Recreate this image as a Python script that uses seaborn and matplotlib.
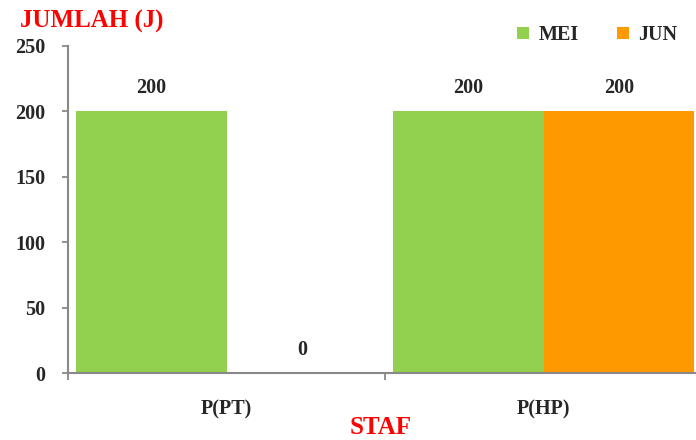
import pandas as pd
import numpy as np
import matplotlib.pyplot as plt
import seaborn as sns
from matplotlib.ticker import FixedLocator

# data
kategori = ["P(PT)", "P(HP)"]
bulan = ["MEI", "JUN"]
nilai_mei = [200, 200]
nilai_jun = [0, 200]
warna = ["#92D050", "#FF9900"]

df = pd.DataFrame({
    "staf": kategori * 2,
    "bulan": [bulan[0]] * 2 + [bulan[1]] * 2,
    "jumlah": nilai_mei + nilai_jun,
})

sns.set_style("white")
plt.rcParams['font.family'] = ['Liberation Serif', 'DejaVu Serif']
plt.rcParams['font.weight'] = 'bold'

fig = plt.figure(figsize=(6.96, 4.4), dpi=100)
ax = fig.add_axes([0.098, 0.152, 0.902, 0.744])

sns.barplot(data=df, x="staf", y="jumlah", hue="bulan", palette=warna,
            width=0.95, saturation=1, linewidth=0, ax=ax, legend=True)

# label nilai di atas batang
for c in ax.containers:
    ax.bar_label(c, padding=9.5, fontsize=14.5, fontweight='bold')

ax.set_ylim(0, 250)
ax.set_xlim(-0.5, 1.48)
ax.set_yticks(np.arange(0, 251, 50))
ax.tick_params(axis='y', left=True, labelsize=14.5, length=4.5, color='#898989',
               width=1.3, pad=12, direction='out')

# tick di batas kategori, label di tengah
ax.xaxis.set_major_locator(FixedLocator([0, 1]))
ax.set_xticklabels(kategori, fontsize=14.5, fontweight='bold')
ax.xaxis.set_minor_locator(FixedLocator([-0.5, 0.5, 1.5]))
ax.tick_params(axis='x', which='major', bottom=False, length=0, pad=19)
ax.tick_params(axis='x', which='minor', bottom=True, length=5, color='#898989',
               width=1.3, direction='out')
for lab in ax.get_yticklabels():
    lab.set_fontweight('bold')

for s in ['top', 'right']:
    ax.spines[s].set_visible(False)
for s in ['left', 'bottom']:
    ax.spines[s].set_color('#898989')
    ax.spines[s].set_linewidth(1.5)

ax.set_xlabel("")
ax.set_ylabel("")
fig.text(0.029, 0.951, "JUMLAH (J)", color='red', fontsize=18, fontweight='bold', va='center')
fig.text(0.547, 0.028, "STAF", color='red', fontsize=18, fontweight='bold', ha='center', va='center')

handles, labels = ax.get_legend_handles_labels()
ax.legend(handles, labels, loc='center', bbox_to_anchor=(0.858, 0.92),
          bbox_transform=fig.transFigure, ncol=2, frameon=False,
          handlelength=0.6, handleheight=0.6, handletextpad=0.45,
          columnspacing=1.9, prop={'size': 14.5, 'weight': 'bold'})

fig.savefig("out.png", dpi=100)
